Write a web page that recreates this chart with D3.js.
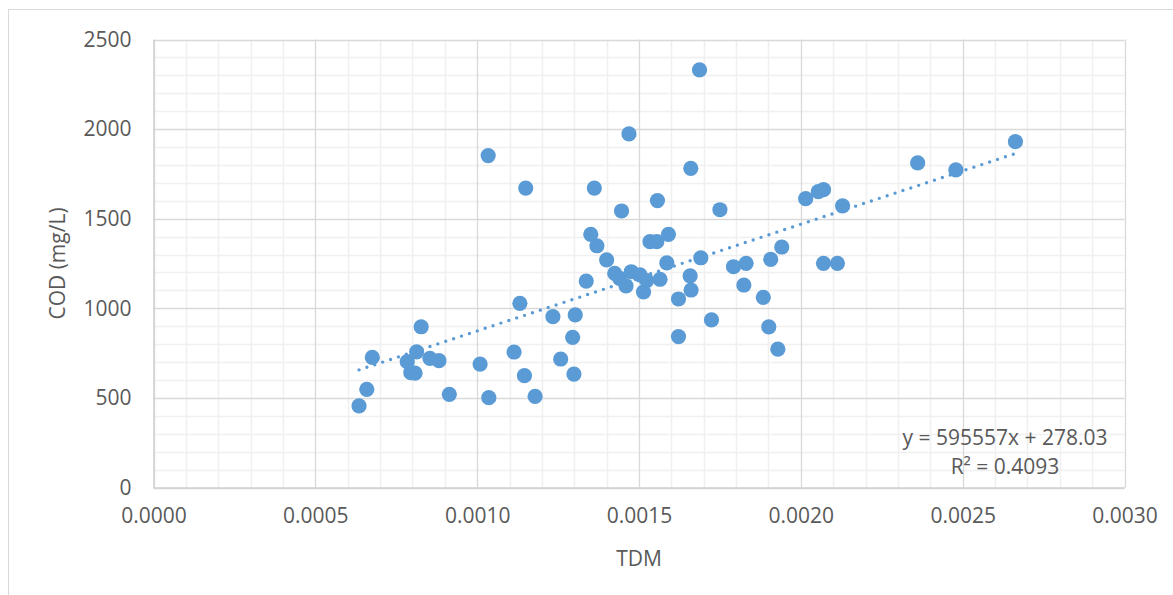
<!DOCTYPE html>
<html>
<head>
<meta charset="utf-8">
<script src="https://cdn.jsdelivr.net/npm/d3@7"></script>
<style>
  html, body { margin: 0; padding: 0; background: #fff; }
  svg { display: block; }
  text { font-family: "Open Sans", "Liberation Sans", sans-serif; fill: #595959; }
</style>
</head>
<body>
<svg id="chart" width="1173" height="595"></svg>
<script>
// TDM vs COD samples
const tdm = [
  0.000635, 0.000659, 0.000676, 0.000784, 0.000795, 0.000808, 0.000813, 0.000827, 0.000854, 0.000882,
  0.000914, 0.001009, 0.001034, 0.001036, 0.001114, 0.001132, 0.001146, 0.001150, 0.001179, 0.001234,
  0.001258, 0.001295, 0.001299, 0.001303, 0.001337, 0.001351, 0.001362, 0.001370, 0.001400, 0.001425,
  0.001440, 0.001446, 0.001460, 0.001469, 0.001476, 0.001503, 0.001514, 0.001524, 0.001534, 0.001555,
  0.001557, 0.001565, 0.001586, 0.001591, 0.001622, 0.001622, 0.001658, 0.001660, 0.001661, 0.001687,
  0.001691, 0.001724, 0.001750, 0.001792, 0.001831, 0.001824, 0.001884, 0.001901, 0.001907, 0.001929,
  0.001941, 0.002015, 0.002054, 0.002070, 0.002070, 0.002113, 0.002129, 0.002361, 0.002479, 0.002663
];
const cod = [
  455, 548, 726, 702, 641, 638, 757, 897, 721, 708,
  520, 689, 1852, 501, 756, 1028, 624, 1671, 509, 953,
  717, 838, 633, 963, 1152, 1413, 1671, 1349, 1270, 1195,
  1167, 1543, 1125, 1973, 1204, 1186, 1091, 1155, 1372, 1372,
  1601, 1162, 1253, 1413, 1052, 842, 1181, 1781, 1102, 2330,
  1282, 935, 1550, 1232, 1251, 1130, 1061, 896, 1273, 772,
  1342, 1612, 1651, 1662, 1251, 1251, 1572, 1811, 1772, 1930
];

// Linear trend reported on the chart
const slope = 595557;
const intercept = 278.03;
const rSquared = "0.4093";

const xTicks = [0, 0.0005, 0.001, 0.0015, 0.002, 0.0025, 0.003];
const yTicks = [0, 500, 1000, 1500, 2000, 2500];

const svg = d3.select("#chart");
const plotL = 153.5, plotR = 1124.5, plotT = 39.5, plotB = 487.5;
const fontSize = 21;

const x = d3.scaleLinear().domain([0, 0.003]).range([plotL, plotR]);
const y = d3.scaleLinear().domain([0, 2500]).range([plotB, plotT]);

// outer chart frame
svg.append("rect")
  .attr("x", 8.5).attr("y", 9.5)
  .attr("width", 1200).attr("height", 700)
  .attr("fill", "#fff").attr("stroke", "#d9d9d9").attr("stroke-width", 1);

const grid = svg.append("g");
// minor gridlines
grid.selectAll("line.minor-x")
  .data(d3.range(0, 31).map(i => i * 0.0001).filter((d, i) => i % 5 !== 0))
  .join("line")
  .attr("x1", d => Math.round(x(d)) + 0.5).attr("x2", d => Math.round(x(d)) + 0.5)
  .attr("y1", plotT).attr("y2", plotB)
  .attr("stroke", "#f0f0f0").attr("stroke-width", 1.5);
grid.selectAll("line.minor-y")
  .data(d3.range(0, 26).map(i => i * 100).filter((d, i) => i % 5 !== 0))
  .join("line")
  .attr("y1", d => Math.round(y(d)) + 0.5).attr("y2", d => Math.round(y(d)) + 0.5)
  .attr("x1", plotL).attr("x2", plotR)
  .attr("stroke", "#f0f0f0").attr("stroke-width", 1.5);
// major gridlines
grid.selectAll("line.major-x")
  .data(xTicks)
  .join("line")
  .attr("x1", d => Math.round(x(d)) + 0.5).attr("x2", d => Math.round(x(d)) + 0.5)
  .attr("y1", plotT).attr("y2", plotB)
  .attr("stroke", "#d9d9d9").attr("stroke-width", 1.3);
grid.selectAll("line.major-y")
  .data(yTicks)
  .join("line")
  .attr("y1", d => Math.round(y(d)) + 0.5).attr("y2", d => Math.round(y(d)) + 0.5)
  .attr("x1", plotL).attr("x2", plotR)
  .attr("stroke", "#d9d9d9").attr("stroke-width", 1.3);

// axes: labels only, lines come from the grid
const xAxis = d3.axisBottom(x).tickValues(xTicks).tickFormat(d3.format(".4f")).tickSize(0).tickPadding(21);
const yAxis = d3.axisLeft(y).tickValues(yTicks).tickFormat(d3.format("d")).tickSize(0).tickPadding(22);

const gx = svg.append("g").attr("transform", `translate(0,${plotB})`).call(xAxis);
gx.select(".domain").attr("stroke", "#d0d0d0").attr("stroke-width", 1.5);
gx.selectAll("text").attr("font-size", fontSize).attr("fill", "#595959")
  .attr("font-family", "'Open Sans', sans-serif");

const gy = svg.append("g").attr("transform", `translate(${plotL},0)`).call(yAxis);
gy.select(".domain").attr("stroke", "#d0d0d0").attr("stroke-width", 1.5);
gy.selectAll("text").attr("font-size", fontSize).attr("fill", "#595959")
  .attr("font-family", "'Open Sans', sans-serif");

// points
const pts = tdm.map((t, i) => ({ t, c: cod[i] }));
svg.append("g").selectAll("circle")
  .data(pts)
  .join("circle")
  .attr("cx", d => x(d.t))
  .attr("cy", d => y(d.c))
  .attr("r", 7.6)
  .attr("fill", "#5b9bd5");

// dotted trendline across the data range
const [tMin, tMax] = d3.extent(tdm);
svg.append("line")
  .attr("x1", x(tMin)).attr("y1", y(slope * tMin + intercept))
  .attr("x2", x(tMax)).attr("y2", y(slope * tMax + intercept))
  .attr("stroke", "#5b9bd5").attr("stroke-width", 3.4)
  .attr("stroke-linecap", "round")
  .attr("stroke-dasharray", "0 8.3");

// regression label
const eq = svg.append("g").attr("font-size", fontSize).attr("text-anchor", "middle");
eq.append("text").attr("x", 1005).attr("y", 445)
  .text(`y = ${slope}x + ${intercept.toFixed(2)}`);
eq.append("text").attr("x", 1005).attr("y", 474)
  .text(`R² = ${rSquared}`);

// axis titles
svg.append("text")
  .attr("x", (plotL + plotR) / 2).attr("y", 566)
  .attr("text-anchor", "middle").attr("font-size", fontSize)
  .text("TDM");
svg.append("text")
  .attr("transform", `translate(65,${(plotT + plotB) / 2}) rotate(-90)`)
  .attr("text-anchor", "middle").attr("font-size", fontSize)
  .text("COD (mg/L)");
</script>
</body>
</html>
